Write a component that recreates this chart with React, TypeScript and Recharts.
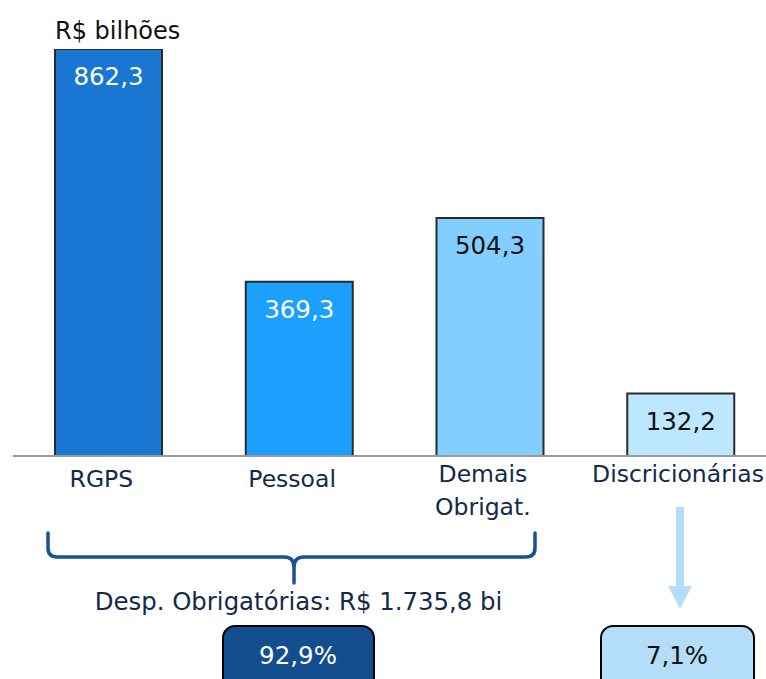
import React from "react";
import { BarChart, Bar, XAxis, YAxis, Cell, LabelList, Customized } from "recharts";

// valores em R$ bilhões
const categories = ["RGPS", "Pessoal", "Demais\nObrigat.", "Discricionárias"];
const values = [862.3, 369.3, 504.3, 132.2];
const obrigTotal = "Desp. Obrigatórias: R$ 1.735,8 bi";
const shares = ["92,9%", "7,1%"];

const BAR_FILL = ["#1976D2", "#1BA0FF", "#82CFFF", "#BDE6FF"];
const LABEL_FILL = ["#ffffff", "#ffffff", "#111111", "#111111"];
const TEXT_DARK = "#13294B";
const FONT = "'DejaVu Sans', Verdana, sans-serif";

const W = 766;
const H = 679;
const PLOT_TOP = 49;
const PLOT_BOTTOM = 456;

const data = categories.map((c, i) => ({ name: c, value: values[i] }));

function fmt(v: number) {
  return v.toFixed(1).replace(".", ",");
}

function CategoryTick(props: any) {
  const { x, payload } = props;
  const lines: string[] = String(payload.value).split("\n");
  const first = lines.length > 1 ? 482 : 487;
  const isLast = payload.index === categories.length - 1;
  // os rótulos ficam um pouco à esquerda do centro; o último encosta na borda
  const tx = isLast ? W - 2 : x - 7;
  return (
    <g>
      {lines.map((l, i) => (
        <text
          key={i}
          x={tx}
          y={isLast ? 482 : first + i * 33}
          textAnchor={isLast ? "end" : "middle"}
          fontSize={23.5}
          fontFamily={FONT}
          fill={TEXT_DARK}
        >
          {l}
        </text>
      ))}
    </g>
  );
}

function ValueLabel(props: any) {
  const { x, y, width, value, index } = props;
  return (
    <text x={x + width / 2} y={y + 36} textAnchor="middle" fontSize={24.5} fontFamily={FONT} fill={LABEL_FILL[index]}>
      {fmt(value)}
    </text>
  );
}

// chave, seta e caixas de participação
function Annotations() {
  return (
    <g fontFamily={FONT}>
      <text x={55} y={39} fontSize={24} fill="#111">R$ bilhões</text>
      <path
        d="M48,533 L48,548 Q48,557 57,557 L284,557 Q294,557 294,567 L294,583 M294,567 Q294,557 304,557 L526,557 Q535,557 535,548 L535,533"
        fill="none" stroke="#1A5296" strokeWidth={3.5} strokeLinecap="round" strokeLinejoin="round"
      />
      <text x={298.5} y={610} textAnchor="middle" fontSize={24.4} fill={TEXT_DARK}>{obrigTotal}</text>
      <rect x={223} y={626} width={151} height={70} rx={12} fill="#134F8F" stroke="#000" strokeWidth={2} />
      <text x={298} y={664} textAnchor="middle" fontSize={24.5} fill="#fff">{shares[0]}</text>

      <line x1={680} y1={507} x2={680} y2={590} stroke="#B3DDF9" strokeWidth={8} />
      <polygon points="668,586 692,586 680,609" fill="#B3DDF9" />
      <rect x={601} y={626} width={153} height={70} rx={12} fill="#B3DDF8" stroke="#000" strokeWidth={2} />
      <text x={677} y={664} textAnchor="middle" fontSize={24.5} fill="#111">{shares[1]}</text>
    </g>
  );
}

export default function App() {
  return (
    <div style={{ position: "absolute", left: 0, top: 0, width: W, height: H, overflow: "hidden", background: "#fff" }}>
      <BarChart
        width={776}
        height={H}
        data={data}
        margin={{ top: PLOT_TOP, right: 0, left: 13, bottom: H - PLOT_BOTTOM - 70 }}
      >
        <XAxis
          dataKey="name"
          height={70}
          interval={0}
          tickLine={false}
          axisLine={{ stroke: "#9a9a9a", strokeWidth: 2 }}
          tick={<CategoryTick />}
        />
        <YAxis hide domain={[0, 862.3]} allowDataOverflow />
        <Bar dataKey="value" barSize={107} stroke="#2b2b2b" strokeWidth={2} isAnimationActive={false}>
          {data.map((d, i) => (
            <Cell key={d.name} fill={BAR_FILL[i]} />
          ))}
          <LabelList dataKey="value" content={<ValueLabel />} />
        </Bar>
        <Customized component={<Annotations />} />
      </BarChart>
    </div>
  );
}
